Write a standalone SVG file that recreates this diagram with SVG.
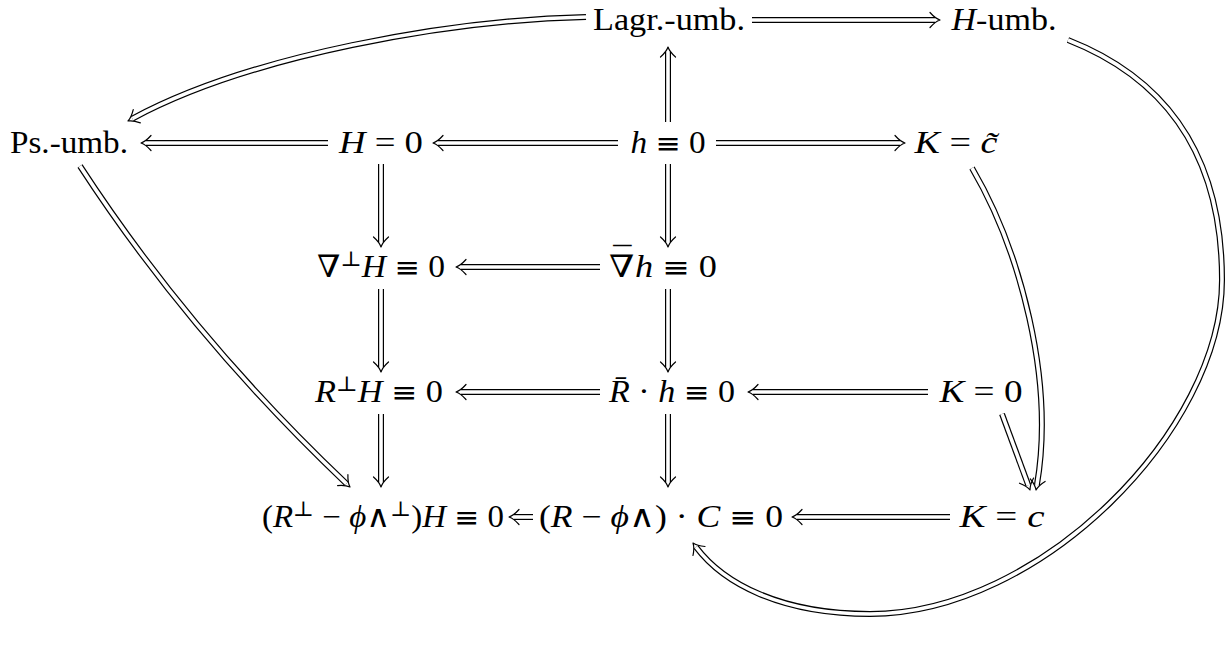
<svg xmlns="http://www.w3.org/2000/svg" width="1228" height="646" viewBox="0 0 1228 646">
<defs>
<style>
.t{font-family:"Liberation Serif","DejaVu Serif",serif;font-size:31px;fill:#000;text-anchor:middle}
.i{font-style:italic}
.s{font-size:21px}
.m{font-family:"DejaVu Sans",sans-serif;font-size:28px}
.d{font-family:"DejaVu Serif",serif}
.o{fill:none;stroke:#000;stroke-width:6}
.w{fill:none;stroke:#fff;stroke-width:3.6}
.h{fill:none;stroke:#000;stroke-width:1.2;stroke-linecap:round;stroke-linejoin:round}
</style>
<path id="hd" d="M-10,-7.5 C-6,-3 -3,-1 0,0 C-3,1 -6,3 -10,7.5"/>
</defs>
<rect width="1228" height="646" fill="#fff"/>
<g id="connectors">
<path class="o" d="M752,20 H935"/><path class="w" d="M752,20 H935"/><use href="#hd" class="h" transform="translate(940,20)"/>
<path class="o" d="M328,143 H146"/><path class="w" d="M328,143 H146"/><use href="#hd" class="h" transform="translate(141,143) rotate(180)"/>
<path class="o" d="M618,143 H438"/><path class="w" d="M618,143 H438"/><use href="#hd" class="h" transform="translate(433,143) rotate(180)"/>
<path class="o" d="M716,143 H900"/><path class="w" d="M716,143 H900"/><use href="#hd" class="h" transform="translate(905,143)"/>
<path class="o" d="M600,267 H461"/><path class="w" d="M600,267 H461"/><use href="#hd" class="h" transform="translate(456,267) rotate(180)"/>
<path class="o" d="M600,392 H461"/><path class="w" d="M600,392 H461"/><use href="#hd" class="h" transform="translate(456,392) rotate(180)"/>
<path class="o" d="M928,392 H753"/><path class="w" d="M928,392 H753"/><use href="#hd" class="h" transform="translate(748,392) rotate(180)"/>
<path class="o" d="M533,517 H514"/><path class="w" d="M533,517 H514"/><use href="#hd" class="h" transform="translate(509,517) rotate(180)"/>
<path class="o" d="M950,517 H797"/><path class="w" d="M950,517 H797"/><use href="#hd" class="h" transform="translate(792,517) rotate(180)"/>
<path class="o" d="M668,122 V52"/><path class="w" d="M668,122 V52"/><use href="#hd" class="h" transform="translate(668,47) rotate(-90)"/>
<path class="o" d="M381,164 V242"/><path class="w" d="M381,164 V242"/><use href="#hd" class="h" transform="translate(381,247) rotate(90)"/>
<path class="o" d="M668,164 V242"/><path class="w" d="M668,164 V242"/><use href="#hd" class="h" transform="translate(668,247) rotate(90)"/>
<path class="o" d="M381,289 V367"/><path class="w" d="M381,289 V367"/><use href="#hd" class="h" transform="translate(381,372) rotate(90)"/>
<path class="o" d="M668,289 V367"/><path class="w" d="M668,289 V367"/><use href="#hd" class="h" transform="translate(668,372) rotate(90)"/>
<path class="o" d="M381,414 V482"/><path class="w" d="M381,414 V482"/><use href="#hd" class="h" transform="translate(381,487) rotate(90)"/>
<path class="o" d="M668,414 V482"/><path class="w" d="M668,414 V482"/><use href="#hd" class="h" transform="translate(668,487) rotate(90)"/>
<path class="o" d="M586,17 C450,20 250,55 132.4,118.6"/><path class="w" d="M586,17 C450,20 250,55 132.4,118.6"/><use href="#hd" class="h" transform="translate(128,121) rotate(151.6)"/>
<path class="o" d="M80,166 Q190,335 346.4,483.6"/><path class="w" d="M80,166 Q190,335 346.4,483.6"/><use href="#hd" class="h" transform="translate(350,487) rotate(43.5)"/>
<path class="o" d="M972,168 C1020,250 1055,380 1036.9,485.1"/><path class="w" d="M972,168 C1020,250 1055,380 1036.9,485.1"/><use href="#hd" class="h" transform="translate(1036,490) rotate(99.8)"/>
<path class="o" d="M1002,414 L1028.3,485.3"/><path class="w" d="M1002,414 L1028.3,485.3"/><use href="#hd" class="h" transform="translate(1030,490) rotate(69.8)"/>
<path class="o" d="M1068,40 C1170,80 1222,160 1222,280 C1222,430 1040,614 870,614 C780,614 723,583 696,547"/><path class="w" d="M1068,40 C1170,80 1222,160 1222,280 C1222,430 1040,614 870,614 C780,614 723,583 696,547"/><use href="#hd" class="h" transform="translate(693,543) rotate(233.1)"/>
</g>
<g id="n-lagr"><text class="t" x="669" y="30" textLength="152" lengthAdjust="spacingAndGlyphs">Lagr.-umb.</text></g>
<g id="n-humb"><text class="t" x="1004" y="30" textLength="105" lengthAdjust="spacingAndGlyphs"><tspan class="i">H</tspan>-umb.</text></g>
<g id="n-ps"><text class="t" x="69" y="153" textLength="118" lengthAdjust="spacingAndGlyphs">Ps.-umb.</text></g>
<g id="n-H0"><text class="t" x="381" y="153" textLength="84" lengthAdjust="spacingAndGlyphs"><tspan class="i">H</tspan> = 0</text></g>
<g id="n-h0"><text class="t" x="668" y="153" textLength="75" lengthAdjust="spacingAndGlyphs"><tspan class="i">h</tspan> <tspan class="m">≡</tspan> 0</text></g>
<g id="n-Kct"><text class="t" x="956" y="153" textLength="83" lengthAdjust="spacingAndGlyphs"><tspan class="i">K</tspan> = <tspan class="i">c̃</tspan></text></g>
<g id="n-nablaH"><text class="t" x="381" y="277" textLength="128" lengthAdjust="spacingAndGlyphs"><tspan class="d">∇</tspan><tspan class="s" dy="-11">⊥</tspan><tspan class="i" dy="11">H</tspan> <tspan class="m">≡</tspan> 0</text></g>
<g id="n-nablah"><text class="t" x="663" y="277" textLength="108" lengthAdjust="spacingAndGlyphs"><tspan class="d">∇</tspan><tspan dx="-18" dy="-8">¯</tspan><tspan class="i" dx="3" dy="8">h</tspan> <tspan class="m">≡</tspan> 0</text></g>
<g id="n-RH"><text class="t" x="379" y="402" textLength="128" lengthAdjust="spacingAndGlyphs"><tspan class="i">R</tspan><tspan class="s" dy="-11">⊥</tspan><tspan class="i" dy="11">H</tspan> <tspan class="m">≡</tspan> 0</text></g>
<g id="n-Rh"><text class="t" x="672" y="402" textLength="126" lengthAdjust="spacingAndGlyphs"><tspan class="i">R̄</tspan> · <tspan class="i">h</tspan> <tspan class="m">≡</tspan> 0</text></g>
<g id="n-K0"><text class="t" x="981" y="402" textLength="83" lengthAdjust="spacingAndGlyphs"><tspan class="i">K</tspan> = 0</text></g>
<g id="n-RphiH"><text class="t" x="383" y="527" textLength="242" lengthAdjust="spacingAndGlyphs">(<tspan class="i">R</tspan><tspan class="s" dy="-11">⊥</tspan><tspan dy="11"> − </tspan><tspan class="i">ϕ</tspan>∧<tspan class="s" dy="-11">⊥</tspan><tspan dy="11">)</tspan><tspan class="i">H</tspan> <tspan class="m">≡</tspan> 0</text></g>
<g id="n-RphiC"><text class="t" x="661" y="527" textLength="244" lengthAdjust="spacingAndGlyphs">(<tspan class="i">R</tspan> − <tspan class="i">ϕ</tspan>∧) · <tspan class="i">C</tspan> <tspan class="m">≡</tspan> 0</text></g>
<g id="n-Kc"><text class="t" x="1002" y="527" textLength="85" lengthAdjust="spacingAndGlyphs"><tspan class="i">K</tspan> = <tspan class="i">c</tspan></text></g>
</svg>
